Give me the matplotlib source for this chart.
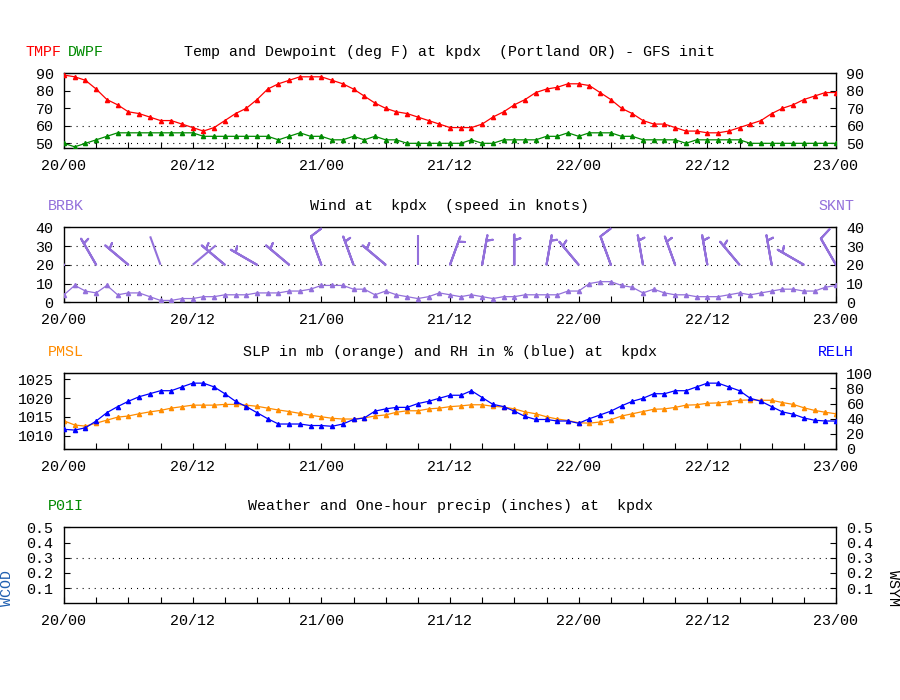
import numpy as np
import matplotlib
matplotlib.use("Agg")
import matplotlib.pyplot as plt
import matplotlib.transforms as mtransforms
from matplotlib.collections import LineCollection

plt.rcParams['font.family'] = ['Liberation Mono', 'DejaVu Sans Mono']
plt.rcParams['font.size'] = 10.8
plt.rcParams['lines.scale_dashes'] = False

# ---------------- data ----------------
hours = np.arange(73)
xtick_pos = [0, 12, 24, 36, 48, 60, 72]
xtick_labels = ['20/00', '20/12', '21/00', '21/12', '22/00', '22/12', '23/00']

tmpf = [89, 88, 86, 81, 75, 72, 68, 67, 65, 63, 63, 61, 59, 57, 59, 63, 67, 70, 75, 81, 84, 86, 88, 88,
        88, 86, 84, 81, 77, 73, 70, 68, 67, 65, 63, 61, 59, 59, 59, 61, 65, 68, 72, 75, 79, 81, 82, 84,
        84, 83, 79, 75, 70, 67, 63, 61, 61, 59, 57, 57, 56, 56, 57, 59, 61, 63, 67, 70, 72, 75, 77, 79, 79]
dwpf = [50, 48, 50, 52, 54, 56, 56, 56, 56, 56, 56, 56, 56, 54, 54, 54, 54, 54, 54, 54, 52, 54, 56, 54,
        54, 52, 52, 54, 52, 54, 52, 52, 50, 50, 50, 50, 50, 50, 52, 50, 50, 52, 52, 52, 52, 54, 54, 56,
        54, 56, 56, 56, 54, 54, 52, 52, 52, 52, 50, 52, 52, 52, 52, 52, 50, 50, 50, 50, 50, 50, 50, 50, 50]
sknt = [4, 9, 6, 5, 9, 4, 5, 5, 3, 1, 1, 2, 2, 3, 3, 4, 4, 4, 5, 5, 5, 6, 6, 7,
        9, 9, 9, 7, 7, 4, 6, 4, 3, 2, 3, 5, 4, 3, 4, 3, 2, 3, 3, 4, 4, 4, 4, 6,
        6, 10, 11, 11, 9, 8, 5, 7, 5, 4, 4, 3, 3, 3, 4, 5, 4, 5, 6, 7, 7, 6, 6, 8, 9]
barb_hours = np.arange(0, 73, 3)
drct = [300, 330, 310, 340, 50, 310, 300, 310, 340, 340, 310, 360, 20,
        10, 360, 10, 320, 340, 350, 340, 350, 320, 350, 300, 330]
barb_level = 20
relh = [26, 25, 28, 37, 48, 56, 63, 69, 73, 77, 77, 82, 87, 87, 82, 73, 63, 56, 48, 40, 33, 33, 33, 31,
        31, 30, 33, 39, 41, 50, 53, 55, 55, 60, 63, 67, 71, 71, 77, 68, 59, 56, 50, 43, 39, 39, 37, 37,
        34, 40, 45, 50, 57, 63, 67, 73, 73, 77, 77, 82, 87, 87, 82, 77, 67, 63, 56, 49, 46, 41, 38, 37, 37]
pmsl = [1013.9, 1012.8, 1012.5, 1013.3, 1014.1, 1014.9, 1015.2, 1015.8, 1016.3, 1016.7, 1017.3, 1017.7,
        1018.1, 1018.1, 1018.1, 1018.3, 1018.3, 1018.1, 1017.8, 1017.3, 1016.8, 1016.4, 1015.9, 1015.4,
        1015.0, 1014.6, 1014.4, 1014.4, 1014.7, 1015.2, 1015.5, 1016.2, 1016.6, 1016.6, 1017.1, 1017.3,
        1017.7, 1017.9, 1018.2, 1018.2, 1017.8, 1017.6, 1017.1, 1016.3, 1015.8, 1015.0, 1014.4, 1014.0,
        1013.4, 1013.3, 1013.6, 1014.2, 1015.2, 1015.8, 1016.4, 1017.0, 1017.1, 1017.5, 1018.1, 1018.2,
        1018.6, 1018.7, 1019.0, 1019.4, 1019.5, 1019.4, 1019.4, 1018.8, 1018.3, 1017.4, 1016.7, 1016.2,
        1015.8]

temp_ticks = [50, 60, 70, 80, 90]
temp_grid = [50, 60]
wind_ticks = [0, 10, 20, 30, 40]
wind_grid = [10, 20, 30]
slp_ticks = [1010, 1015, 1020, 1025]
rh_ticks = [0, 20, 40, 60, 80, 100]
pcp_ticks = [0.1, 0.2, 0.3, 0.4, 0.5]
pcp_grid = [0.1, 0.3]

RED = '#ff0000'
GREEN = '#008a00'
PURPLE = '#9370db'
ORANGE = '#ff8c00'
BLUE = '#0000ff'
STEEL = '#1f5fb0'

W, H = 900, 700
fig = plt.figure(figsize=(9, 7), dpi=100)

def add_panel(top_px, bot_px):
    l, r = 64, 836
    return fig.add_axes([l / W, 1 - bot_px / H, (r - l) / W, (bot_px - top_px) / H])

def style_axes(ax, right_labels=True):
    ax.set_xlim(0, 72)
    ax.set_xticks(xtick_pos)
    ax.set_xticklabels(xtick_labels)
    ax.set_xticks(np.arange(0, 73, 3), minor=True)
    ax.tick_params(axis='x', which='both', direction='in', length=4.3, width=0.8,
                   top=False, bottom=True, pad=8)
    ax.tick_params(axis='y', which='both', direction='in', length=4.3, width=0.8,
                   left=True, right=right_labels, labelright=right_labels, pad=7.5)
    for s in ax.spines.values():
        s.set_linewidth(1.0)

def grid_lines(ax, levels):
    for g in levels:
        ax.axhline(g, color='black', lw=0.8, linestyle=(0, (0.75, 3.6)), zorder=1)

def ftext(xpx, ypx, s, color='black', ha='left', rot=0):
    fig.text(xpx / W, 1 - ypx / H, s, color=color, ha=ha, va='center', rotation=rot)

mk = dict(marker='^', markersize=3.0, lw=0.9)

# ---- panel 1: temperature / dewpoint
ax1 = add_panel(73.3, 147.7)
style_axes(ax1)
ax1.set_ylim(47.5, 90)
ax1.set_yticks(temp_ticks)
grid_lines(ax1, temp_grid)
ax1.plot(hours, tmpf, color=RED, zorder=3, **mk)
ax1.plot(hours, dwpf, color=GREEN, zorder=3, **mk)
ftext(25, 52, 'TMPF', RED)
ftext(68, 52, 'DWPF', GREEN)
ftext(450, 52, 'Temp and Dewpoint (deg F) at kpdx  (Portland OR) - GFS init', ha='center')

# ---- panel 2: wind
ax2 = add_panel(227.3, 302.3)
style_axes(ax2)
ax2.set_ylim(0, 40)
ax2.set_yticks(wind_ticks)
grid_lines(ax2, wind_grid)
ax2.plot(hours, sknt, color=PURPLE, zorder=3, **mk)
bspd = np.array(sknt)[barb_hours]
brad = np.deg2rad(drct)
u = -bspd * np.sin(brad)
v = -bspd * np.cos(brad)
blen = 6.6
staff_pt = blen ** 2 / 2
segs = [[(0, 0), (staff_pt * np.sin(a), staff_pt * np.cos(a))] for a in brad]
pt2px = mtransforms.Affine2D().scale(fig.dpi / 72.0)
lc = LineCollection(segs, colors=PURPLE, linewidths=1.5, transform=pt2px,
                    offsets=np.column_stack([barb_hours, np.full(len(barb_hours), barb_level)]),
                    offset_transform=ax2.transData, zorder=4)
ax2.add_collection(lc)
ax2.barbs(barb_hours, np.full(len(barb_hours), barb_level), u, v, length=blen, pivot='tip',
          color=PURPLE, linewidth=1.5, sizes=dict(emptybarb=0.0), zorder=4)
ax2.set_xlim(0, 72)
ax2.set_ylim(0, 40)
ftext(48, 206, 'BRBK', PURPLE)
ftext(818, 206, 'SKNT', PURPLE)
ftext(450, 206, 'Wind at  kpdx  (speed in knots)', ha='center')

# ---- panel 3: SLP and RH
ax3 = add_panel(373.3, 449.0)
style_axes(ax3, right_labels=False)
ax3.set_ylim(1006.4, 1026.6)
ax3.set_yticks(slp_ticks)
ax3b = ax3.twinx()
ax3b.set_ylim(0, 100)
ax3b.set_yticks(rh_ticks)
ax3b.tick_params(axis='y', direction='in', length=4.3, width=0.8, pad=7.5)
ax3b.set_zorder(ax3.get_zorder() + 1)
ax3.plot(hours, pmsl, color=ORANGE, zorder=3, **mk)
ax3b.plot(hours, relh, color=BLUE, zorder=3, **mk)
ftext(48, 352, 'PMSL', ORANGE)
ftext(818, 352, 'RELH', BLUE)
ftext(450, 352, 'SLP in mb (orange) and RH in % (blue) at  kpdx', ha='center')

# ---- panel 4: precip
ax4 = add_panel(527.3, 603.3)
style_axes(ax4)
ax4.set_ylim(0, 0.5)
ax4.set_yticks(pcp_ticks)
ax4.set_yticklabels([f'{t:.1f}' for t in pcp_ticks])
grid_lines(ax4, pcp_grid)
ftext(48, 506, 'P01I', GREEN)
ftext(450, 506, 'Weather and One-hour precip (inches) at  kpdx', ha='center')
ftext(7, 588, 'WCOD', STEEL, ha='center', rot=90)
ftext(893, 588, 'WSYM', 'black', ha='center', rot=-90)

fig.savefig('out.png', dpi=100)
